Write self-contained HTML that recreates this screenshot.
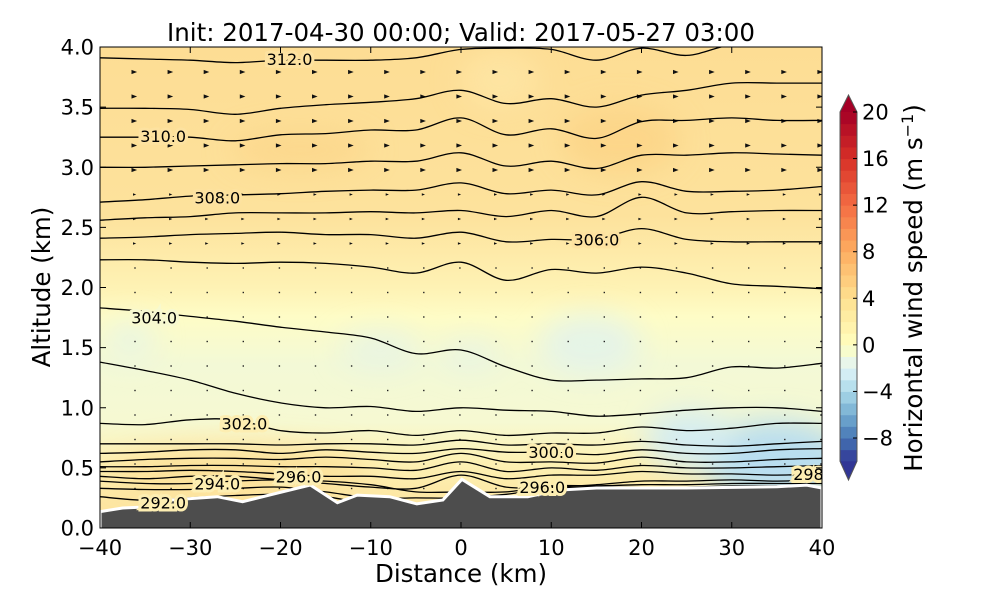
<!DOCTYPE html>
<html><head><meta charset="utf-8"><style>
html,body{margin:0;padding:0;background:#fff;}
svg text{font-family:"DejaVu Sans","Liberation Sans",sans-serif;}
</style></head><body>
<svg id="chart" width="1000" height="600" viewBox="0 0 1000 600" xmlns="http://www.w3.org/2000/svg">
<defs>
<clipPath id="plotclip"><rect x="100" y="47" width="722" height="481"/></clipPath>
<filter id="blur" x="-50%" y="-50%" width="200%" height="200%"><feGaussianBlur stdDeviation="14"/></filter>
<linearGradient id="bgGrad" x1="0" y1="0" x2="0" y2="1">
<stop offset="0" stop-color="#fddd94"/>
<stop offset="0.35" stop-color="#fde29c"/>
<stop offset="0.5" stop-color="#fef2b4"/>
<stop offset="0.56" stop-color="#fefcc6"/>
<stop offset="0.66" stop-color="#f3f9d6"/>
<stop offset="0.78" stop-color="#f6f9d2"/>
<stop offset="0.86" stop-color="#fdf1b4"/>
<stop offset="0.95" stop-color="#fde6a2"/>
<stop offset="1" stop-color="#fde39c"/>
</linearGradient>
</defs>
<text x="461" y="41" font-size="24.5" text-anchor="middle">Init: 2017-04-30 00:00; Valid: 2017-05-27 03:00</text>
<g id="plot" clip-path="url(#plotclip)">
<rect x="100" y="47" width="722" height="481" fill="url(#bgGrad)"/>
<g filter="url(#blur)">
<ellipse cx="300" cy="150" rx="70" ry="20" fill="#fcd487" opacity="0.7"/>
<ellipse cx="620" cy="140" rx="60" ry="35" fill="#fcd283" opacity="0.7"/>
<ellipse cx="500" cy="80" rx="40" ry="30" fill="#fee7a6" opacity="0.7"/>
<ellipse cx="590" cy="345" rx="50" ry="30" fill="#e3f3ea" opacity="0.9"/>
<ellipse cx="380" cy="350" rx="40" ry="20" fill="#e6f4e6" opacity="0.8"/>
<ellipse cx="470" cy="355" rx="30" ry="15" fill="#e6f4e6" opacity="0.8"/>
<ellipse cx="775" cy="460" rx="75" ry="40" fill="#b9def0" opacity="1"/>
<ellipse cx="690" cy="440" rx="45" ry="30" fill="#d3ecf2" opacity="0.95"/>
<ellipse cx="240" cy="470" rx="130" ry="25" fill="#fcdb92" opacity="0.7"/>
<ellipse cx="130" cy="340" rx="25" ry="20" fill="#e7f5e6" opacity="0.8"/>
</g>
<g id="vectors"></g>
<g id="contours"></g>
<path id="terrain" fill="#4d4d4d" stroke="#fff" stroke-width="3"/>
<g id="clabels"></g>
</g>
<rect x="100" y="47" width="722" height="481" fill="none" stroke="#000" stroke-width="1"/>
<g id="axes"></g>
<text x="461" y="582" font-size="24.5" text-anchor="middle">Distance (km)</text>
<text transform="translate(50,287) rotate(-90)" font-size="24.5" text-anchor="middle">Altitude (km)</text>
<g id="colorbar"></g>
<text transform="translate(922,288) rotate(-90)" font-size="24.5" text-anchor="middle">Horizontal wind speed (m s<tspan font-size="16" dy="-9">−1</tspan><tspan dy="9">)</tspan></text>
</svg>
<script>
const NS="http://www.w3.org/2000/svg";
const distNodes=[-40,-35,-30,-25,-20,-15,-10,-5,0,5,10,15,20,25,30,35,40];
const contourA=[3.91,3.90,3.89,3.87,3.89,3.89,3.89,3.91,3.98,3.99,3.98,3.89,3.99,3.93,4.02,4.03,4.03];
const contourB=[3.49,3.49,3.48,3.44,3.49,3.52,3.54,3.57,3.64,3.53,3.57,3.50,3.60,3.64,3.70,3.70,3.70];
const contourC=[3.25,3.25,3.25,3.22,3.27,3.28,3.31,3.31,3.41,3.27,3.32,3.24,3.38,3.39,3.41,3.39,3.39];
const contourD=[3.00,3.00,3.01,3.02,3.03,3.03,3.05,3.05,3.12,3.01,3.05,2.99,3.10,3.10,3.12,3.11,3.10];
const contourE=[2.71,2.73,2.76,2.77,2.78,2.80,2.81,2.81,2.87,2.78,2.81,2.77,2.88,2.80,2.80,2.81,2.84];
const contourF=[2.56,2.58,2.59,2.62,2.62,2.62,2.63,2.62,2.64,2.59,2.64,2.59,2.75,2.62,2.63,2.64,2.64];
const contourG=[2.41,2.42,2.44,2.45,2.46,2.44,2.44,2.41,2.46,2.38,2.40,2.40,2.49,2.40,2.38,2.38,2.38];
const contourH=[2.23,2.23,2.21,2.20,2.21,2.20,2.17,2.12,2.21,2.06,2.15,2.12,2.17,2.12,2.03,2.01,1.99];
const contourI=[1.83,1.80,1.76,1.72,1.67,1.63,1.58,1.45,1.48,1.34,1.23,1.23,1.24,1.25,1.34,1.33,1.37];
const contourJ=[1.38,1.31,1.23,1.12,1.04,1.00,1.01,0.97,1.00,0.98,0.97,0.93,0.95,0.98,1.00,1.00,0.97];
const contourK=[0.87,0.86,0.90,0.90,0.81,0.79,0.81,0.77,0.81,0.77,0.79,0.79,0.84,0.81,0.83,0.87,0.87];
const contourL=[0.70,0.70,0.70,0.70,0.69,0.70,0.70,0.69,0.73,0.69,0.70,0.69,0.72,0.69,0.68,0.70,0.72];
const contourM=[0.62,0.63,0.65,0.65,0.62,0.65,0.63,0.62,0.66,0.63,0.63,0.61,0.65,0.62,0.62,0.65,0.66];
const contourN=[0.55,0.57,0.58,0.58,0.57,0.59,0.57,0.55,0.62,0.55,0.55,0.54,0.59,0.55,0.55,0.57,0.58];
const contourO=[0.51,0.51,0.52,0.52,0.51,0.51,0.50,0.48,0.55,0.47,0.50,0.48,0.52,0.50,0.50,0.51,0.52];
const contourP=[0.47,0.47,0.48,0.47,0.45,0.43,0.43,0.41,0.47,0.41,0.44,0.44,0.47,0.45,0.45,0.44,0.45];
const contourQ=[0.43,0.41,0.43,0.43,0.40,0.37,0.34,0.33,0.44,0.34,0.34,0.36,0.39,0.39,0.40,0.39,0.40];
const contourR=[0.39,0.37,0.37,0.39,0.40,0.39,0.36,0.30,0.30,0.30,0.35,0.35,0.36,0.36,0.37,0.37,0.37];
const contourS=[0.33,0.32,0.32,0.33,0.34,0.30,0.25,0.25,0.25,0.28,0.33,0.34,0.34,0.34,0.35,0.35,0.34];
const contourT=[0.26,0.23,0.25,0.27,0.28,0.26,0.20,0.20,0.20,0.20,0.20,0.20,0.20,0.20,0.20,0.20,0.20];
const terrainDist=[-40,-37.5,-35,-33.4,-27,-24.2,-16.7,-13.7,-11.5,-7.9,-4.9,-2,0.1,3.2,7.4,11,15,25,35,38.3,40];
const terrainAlt=[0.136,0.166,0.175,0.227,0.26,0.219,0.358,0.21,0.274,0.26,0.2,0.233,0.405,0.26,0.26,0.316,0.333,0.333,0.343,0.357,0.333];
const labelText=["312.0","310.0","308.0","306.0","304.0","302.0","300.0","296.0","296.0","294.0","292.0","298"];
const labelDist=[-19,-33,-27,15,-34,-24,10,-18,9,-27,-33,38.5];
const labelAlt=[3.9,3.26,2.75,2.4,1.75,0.87,0.63,0.43,0.34,0.37,0.21,0.45];
const xTicks=[-40,-30,-20,-10,0,10,20,30,40];
const yTicks=[0,0.5,1,1.5,2,2.5,3,3.5,4];
const cbTicks=[20,16,12,8,4,0,-4,-8];

const X=d=>100+(d+40)*722/80;
const Y=a=>528-a*481/4;
const CB=v=>112+(20-v)*326/28;

function smoothPath(pts){
  let d="M"+pts[0][0].toFixed(1)+","+pts[0][1].toFixed(1);
  for(let i=0;i<pts.length-1;i++){
    const p0=pts[i-1]||pts[i],p1=pts[i],p2=pts[i+1],p3=pts[i+2]||p2;
    const c1=[p1[0]+(p2[0]-p0[0])/6,p1[1]+(p2[1]-p0[1])/6];
    const c2=[p2[0]-(p3[0]-p1[0])/6,p2[1]-(p3[1]-p1[1])/6];
    d+="C"+c1[0].toFixed(1)+","+c1[1].toFixed(1)+" "+c2[0].toFixed(1)+","+c2[1].toFixed(1)+" "+p2[0].toFixed(1)+","+p2[1].toFixed(1);
  }
  return d;
}
// vectors
const vg=document.getElementById('vectors');
for(let c=0;c<20;c++){
  for(let r=0;r<19;r++){
    const x=135+c*36.1, y=72+r*24.5;
    if(r<8){
      const p=document.createElementNS(NS,'path');
      
      
      const s=r<5?3.5:2;
      p.setAttribute('d',`M${x-s},${y-s*0.6}L${x+s*0.6},${y}L${x-s},${y+s*0.6}Z`);
      p.setAttribute('fill','#111');
      vg.appendChild(p);
    } else {
      const p=document.createElementNS(NS,'rect');
      
      
      p.setAttribute('x',x-0.7);p.setAttribute('y',y-0.7);p.setAttribute('width',1.4);p.setAttribute('height',1.4);
      p.setAttribute('fill','#222');
      vg.appendChild(p);
    }
  }
}
// contours
const cg=document.getElementById('contours');
const allContours=[contourA,contourB,contourC,contourD,contourE,contourF,contourG,contourH,contourI,contourJ,contourK,contourL,contourM,contourN,contourO,contourP,contourQ,contourR,contourS,contourT];
allContours.forEach(arr=>{
  const p=document.createElementNS(NS,'path');
  
  
  p.setAttribute('d',smoothPath(arr.map((a,i)=>[X(distNodes[i]),Y(a)])));
  p.setAttribute('fill','none');p.setAttribute('stroke','#000');p.setAttribute('stroke-width','1.3');
  cg.appendChild(p);
});
// terrain
let td="M"+X(-40)+","+Y(-0.2);
terrainDist.forEach((d,i)=>{td+="L"+X(d).toFixed(1)+","+Y(terrainAlt[i]).toFixed(1);});
td+="L"+X(40)+","+Y(-0.2)+"Z";
document.getElementById('terrain').setAttribute('d',td);
// labels
const lg=document.getElementById('clabels');
labelText.forEach((t,i)=>{
  const tx=document.createElementNS(NS,'text');
  
  
  tx.setAttribute('x',X(labelDist[i]));tx.setAttribute('y',Y(labelAlt[i])+6);
  tx.setAttribute('font-size','16');tx.setAttribute('text-anchor','middle');
  const a=labelAlt[i];
  tx.setAttribute('stroke',a>2.2?'#fde2a0':(a>1.2?'#f7f9d0':'#fdeeb2'));
  tx.setAttribute('stroke-width','6');tx.setAttribute('paint-order','stroke');
  tx.textContent=t;lg.appendChild(tx);
});
// axes
const ag=document.getElementById('axes');
xTicks.forEach(v=>{
  const x=X(v);
  const l=document.createElementNS(NS,'path');
  
  
  l.setAttribute('d',`M${x},528v-6M${x},47v6`);l.setAttribute('stroke','#000');ag.appendChild(l);
  const t=document.createElementNS(NS,'text');
  
  
  t.setAttribute('x',x);t.setAttribute('y',555);t.setAttribute('font-size','21');t.setAttribute('text-anchor','middle');
  t.textContent=v<0?"−"+(-v):String(v);ag.appendChild(t);
});
yTicks.forEach(v=>{
  const y=Y(v);
  const l=document.createElementNS(NS,'path');
  
  
  l.setAttribute('d',`M100,${y}h6M822,${y}h-6`);l.setAttribute('stroke','#000');ag.appendChild(l);
  const t=document.createElementNS(NS,'text');
  
  
  t.setAttribute('x',94);t.setAttribute('y',y+7.5);t.setAttribute('font-size','21');t.setAttribute('text-anchor','end');
  t.textContent=v.toFixed(1);ag.appendChild(t);
});
// colorbar
const stops=[[-10,[49,54,149]],[-8,[69,117,180]],[-6,[116,173,209]],[-4,[171,217,233]],[-2,[224,243,248]],[0,[255,255,191]],[4,[254,224,144]],[8,[253,174,97]],[12,[244,109,67]],[16,[215,48,39]],[20,[165,0,38]]];
function cmap(v){for(let i=0;i<stops.length-1;i++){const a=stops[i],b=stops[i+1];if(v<=b[0]){const f=(v-a[0])/(b[0]-a[0]);return `rgb(${a[1].map((c,k)=>Math.round(c+(b[1][k]-c)*f)).join(',')})`;}}return 'rgb(165,0,38)';}
const cbg=document.getElementById('colorbar');
for(let v=-10;v<20;v++){
  const r=document.createElementNS(NS,'rect');
  
  
  r.setAttribute('x',840);r.setAttribute('y',CB(v+1));r.setAttribute('width',17);r.setAttribute('height',CB(v)-CB(v+1)+0.5);
  r.setAttribute('fill',cmap(v+0.5));cbg.appendChild(r);
}
const tri1=document.createElementNS(NS,'path');


tri1.setAttribute('d',`M840,${CB(20)}L848.5,95L857,${CB(20)}Z`);tri1.setAttribute('fill','#a50026');cbg.appendChild(tri1);
const tri2=document.createElementNS(NS,'path');


tri2.setAttribute('d',`M840,${CB(-10)}L848.5,480L857,${CB(-10)}Z`);tri2.setAttribute('fill','#313695');cbg.appendChild(tri2);
const out=document.createElementNS(NS,'path');


out.setAttribute('d',`M840,${CB(20)}L848.5,95L857,${CB(20)}V${CB(-10)}L848.5,480L840,${CB(-10)}Z`);
out.setAttribute('fill','none');out.setAttribute('stroke','#555');out.setAttribute('stroke-width','1');cbg.appendChild(out);
cbTicks.forEach(v=>{
  const y=CB(v);
  const l=document.createElementNS(NS,'path');
  
  
  l.setAttribute('d',`M857,${y}h-4`);l.setAttribute('stroke','#000');cbg.appendChild(l);
  const t=document.createElementNS(NS,'text');
  
  
  t.setAttribute('x',862);t.setAttribute('y',y+7.5);t.setAttribute('font-size','21');
  t.textContent=v<0?"−"+(-v):String(v);cbg.appendChild(t);
});
</script>
</body></html>
